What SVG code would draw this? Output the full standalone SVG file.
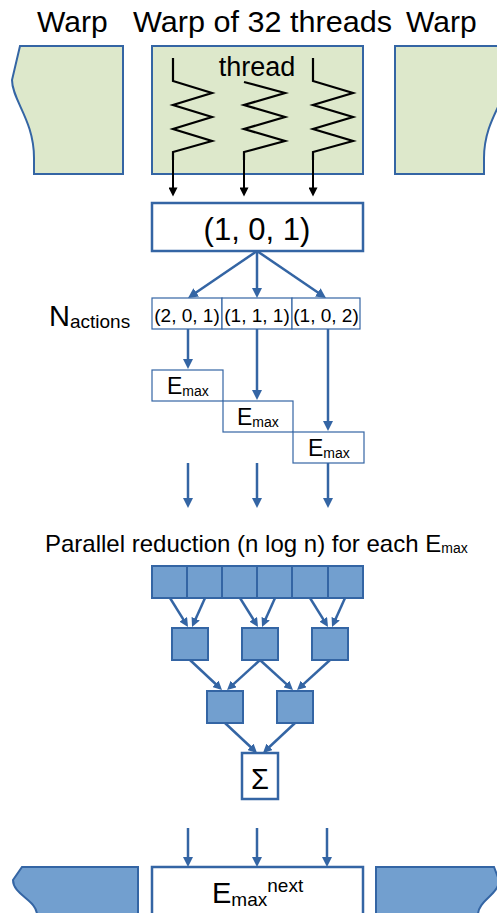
<svg xmlns="http://www.w3.org/2000/svg" width="497" height="913" viewBox="0 0 497 913">
  <style>
    text { font-family: "Liberation Sans", Arial, sans-serif; fill: #000; }
    .warp { fill: #dde8cb; stroke: #3465a4; stroke-width: 2; }
    .box { fill: #fff; stroke: #3465a4; stroke-width: 2.5; }
    .thin { fill: #fff; stroke: #3465a4; stroke-width: 1.2; }
    .cell { fill: #729fcf; stroke: #3465a4; stroke-width: 2; }
    .side { fill: #729fcf; stroke: #3465a4; stroke-width: 2; }
    .thread { fill: none; stroke: #000; stroke-width: 2.2; stroke-linejoin: miter; }
    .blk { fill: none; stroke: #000; stroke-width: 2; marker-end: url(#headBlack); }
    .flow { fill: none; stroke: #3465a4; stroke-width: 2.5; marker-end: url(#headBlue); }
    .red { fill: none; stroke: #3465a4; stroke-width: 2.5; marker-end: url(#headBlueSmall); }
  </style>
  <defs>
    <marker id="headBlue" viewBox="0 0 10 10" refX="6" refY="5" markerWidth="10" markerHeight="10" markerUnits="userSpaceOnUse" orient="auto">
      <path d="M0,0 L10,5 L0,10 Z" fill="#3465a4"/>
    </marker>
    <marker id="headBlueSmall" viewBox="0 0 10 10" refX="6" refY="5" markerWidth="9" markerHeight="9" markerUnits="userSpaceOnUse" orient="auto">
      <path d="M0,0 L10,5 L0,10 Z" fill="#3465a4"/>
    </marker>
    <marker id="headBlack" viewBox="0 0 10 10" refX="6" refY="5" markerWidth="10" markerHeight="9" markerUnits="userSpaceOnUse" orient="auto">
      <path d="M0,0 L10,5 L0,10 Z" fill="#000"/>
    </marker>
  </defs>

  <!-- headings -->
  <g id="titles">
    <text x="37" y="32" font-size="30">Warp</text>
    <text x="133" y="32" font-size="30" textLength="259" lengthAdjust="spacingAndGlyphs">Warp of 32 threads</text>
    <text x="406" y="32" font-size="30">Warp</text>
  </g>

  <!-- warps -->
  <g id="warp-left">
    <path class="warp" d="M20,46 L123,46 L123,174 L34,174 L34,158 C34,120 12,100 12,80 Z"/>
  </g>
  <g id="warp-main">
    <rect class="warp" x="152" y="46" width="211" height="128"/>
    <text x="257" y="76" font-size="27" text-anchor="middle">thread</text>
    <polyline class="thread" points="173,58 173,81 212,93 173,105 212,117 173,129 212,141 173,152 173,160"/>
    <polyline class="thread" points="244,82 285,93 244,105 285,117 244,129 285,141 244,152 244,160"/>
    <polyline class="thread" points="313,58 313,81 353,93 313,105 353,117 313,129 353,141 313,152 313,160"/>
  </g>
  <g id="warp-right">
    <path class="warp" d="M395,46 L499,46 L507,80 C507,100 484,120 484,158 L484,174 L395,174 Z"/>
  </g>

  <!-- state and actions -->
  <g id="state">
    <rect class="box" x="152" y="203" width="211" height="48"/>
    <text x="257" y="240" font-size="31" text-anchor="middle">(1, 0, 1)</text>
  </g>
  <g id="n-actions">
    <text x="49" y="326" font-size="29">N<tspan font-size="19" dy="2">actions</tspan></text>
  </g>
  <g id="action-1">
    <rect class="thin" x="152" y="298" width="70" height="31"/>
    <text x="187" y="322" font-size="19" text-anchor="middle">(2, 0, 1)</text>
  </g>
  <g id="action-2">
    <rect class="thin" x="222" y="298" width="70" height="31"/>
    <text x="257" y="322" font-size="19" text-anchor="middle">(1, 1, 1)</text>
  </g>
  <g id="action-3">
    <rect class="thin" x="292" y="298" width="68" height="31"/>
    <text x="326" y="322" font-size="19" text-anchor="middle">(1, 0, 2)</text>
  </g>

  <!-- energies -->
  <g id="emax-1">
    <rect class="thin" x="152" y="370" width="71" height="31"/>
    <text x="167" y="394" font-size="23">E<tspan font-size="14" dy="1.5">max</tspan></text>
  </g>
  <g id="emax-2">
    <rect class="thin" x="223" y="401" width="70" height="31"/>
    <text x="237" y="425" font-size="23">E<tspan font-size="14" dy="1.5">max</tspan></text>
  </g>
  <g id="emax-3">
    <rect class="thin" x="293" y="432" width="71" height="31"/>
    <text x="308" y="456" font-size="23">E<tspan font-size="14" dy="1.5">max</tspan></text>
  </g>

  <g id="reduction-title">
    <text x="45" y="552" font-size="24">Parallel reduction (n log n) for each E<tspan font-size="14" dy="1">max</tspan></text>
  </g>

  <!-- reduction tree -->
  <g id="level-0">
    <rect class="cell" x="152" y="566" width="35" height="32"/>
    <rect class="cell" x="187" y="566" width="35" height="32"/>
    <rect class="cell" x="222" y="566" width="35" height="32"/>
    <rect class="cell" x="257" y="566" width="35" height="32"/>
    <rect class="cell" x="292" y="566" width="36" height="32"/>
    <rect class="cell" x="328" y="566" width="35" height="32"/>
  </g>
  <g id="level-1">
    <rect class="cell" x="172" y="628" width="36" height="32"/>
    <rect class="cell" x="242" y="628" width="36" height="32"/>
    <rect class="cell" x="312" y="628" width="36" height="32"/>
  </g>
  <g id="level-2">
    <rect class="cell" x="207" y="691" width="36" height="32"/>
    <rect class="cell" x="277" y="691" width="36" height="32"/>
  </g>
  <g id="sum">
    <rect class="box" x="242" y="753" width="36" height="46" stroke-width="2"/>
    <text x="260" y="789" font-size="29" text-anchor="middle">Σ</text>
  </g>

  <!-- next step -->
  <g id="next-left">
    <path class="side" d="M22,867 L138,867 L138,915 L37,915 C37,900 13,895 13,880 Z"/>
  </g>
  <g id="next-main">
    <rect class="box" x="152" y="867" width="211" height="50"/>
    <text x="212" y="903" font-size="29">E<tspan font-size="19" dy="3">max</tspan><tspan font-size="19" dy="-14">next</tspan></text>
  </g>
  <g id="next-right">
    <path class="side" d="M376,867 L494,867 L499,880 C499,895 478,900 478,915 L376,915 Z"/>
  </g>

  <g id="connectors">
    <!-- thread outputs -->
    <line class="blk" x1="173" y1="152" x2="173" y2="193"/>
    <line class="blk" x1="244" y1="152" x2="244" y2="193"/>
    <line class="blk" x1="313" y1="152" x2="313" y2="193"/>
    <!-- state to actions -->
    <line class="flow" x1="257" y1="251" x2="191.3" y2="295.8"/>
    <line class="flow" x1="257" y1="251" x2="257" y2="294"/>
    <line class="flow" x1="257" y1="251" x2="322.7" y2="295.8"/>
    <!-- actions to energies -->
    <line class="flow" x1="188" y1="329" x2="188" y2="365"/>
    <line class="flow" x1="257" y1="329" x2="257" y2="396"/>
    <line class="flow" x1="328" y1="329" x2="328" y2="427"/>
    <!-- energies onward -->
    <line class="flow" x1="188" y1="463" x2="188" y2="504"/>
    <line class="flow" x1="257" y1="463" x2="257" y2="504"/>
    <line class="flow" x1="328" y1="463" x2="328" y2="504"/>
    <!-- level 0 to level 1 -->
    <line class="red" x1="170" y1="598" x2="186.1" y2="623.9"/>
    <line class="red" x1="205" y1="598" x2="193.5" y2="623.7"/>
    <line class="red" x1="240" y1="598" x2="256.1" y2="623.9"/>
    <line class="red" x1="275" y1="598" x2="263.5" y2="623.7"/>
    <line class="red" x1="310" y1="598" x2="326.1" y2="623.9"/>
    <line class="red" x1="345" y1="598" x2="333.5" y2="623.7"/>
    <!-- level 1 to level 2 -->
    <line class="red" x1="190" y1="660" x2="219.4" y2="687.5"/>
    <line class="red" x1="260" y1="660" x2="229.7" y2="687.6"/>
    <line class="red" x1="260" y1="660" x2="290.3" y2="687.6"/>
    <line class="red" x1="330" y1="660" x2="299.7" y2="687.6"/>
    <!-- level 2 to sum -->
    <line class="red" x1="225" y1="723" x2="254.4" y2="750.5"/>
    <line class="red" x1="295" y1="723" x2="265.6" y2="750.5"/>
    <!-- into next step -->
    <line class="flow" x1="188" y1="828" x2="188" y2="863"/>
    <line class="flow" x1="257" y1="828" x2="257" y2="863"/>
    <line class="flow" x1="327" y1="828" x2="327" y2="863"/>
  </g>
</svg>
